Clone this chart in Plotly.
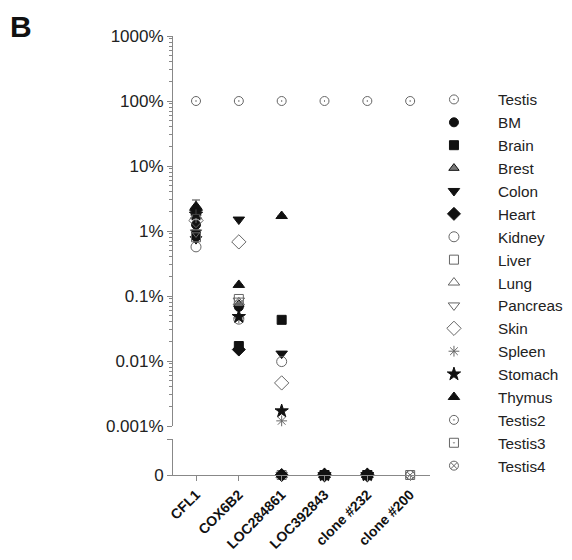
import plotly.graph_objects as go

genes = ["CFL1", "COX6B2", "LOC284861", "LOC392843", "clone #232", "clone #200"]
N = None
# relative expression (% of testis); 0 = not detected, None = not measured
testis   = [100, 100, 100, 100, 100, 100]
bm       = [1.25, 0.068, 0, 0, 0, N]
brain    = [0.88, 0.017, 0.043, 0, 0, N]
brest    = [1.9, 0.075, 0, 0, 0, N]
colon    = [0.75, 1.5, 0.013, 0, 0, N]
heart    = [2.1, 0.015, 0, 0, 0, N]
kidney   = [0.57, 0.044, 0.0098, 0, 0, N]
liver    = [0.8, 0.09, 0, 0, 0, N]
lung     = [1.7, 0.08, 0, 0, 0, N]
pancreas = [0.95, 0.085, 0, 0, 0, N]
skin     = [1.45, 0.68, 0.0046, 0, 0, N]
spleen   = [1.6, 0.046, 0.0012, 0, 0, N]
stomach  = [1.8, 0.048, 0.0017, 0, 0, N]
thymus   = [2.4, 0.148, 1.7, 0, 0, N]
testis2  = [N, N, N, N, N, 0]
testis3  = [N, N, N, N, N, 0]
testis4  = [N, N, N, N, N, 0]
thymus_err = [0.6, 0, 0, 0, 0, 0]

tick_vals = [0.001, 0.01, 0.1, 1, 10, 100, 1000]
tick_text = ["0.001%", "0.01%", "0.1%", "1%", "10%", "100%", "1000%"]

FILL = "#111111"
OPEN = "#666666"

series = [
    ("Testis", testis, "circle-open-dot", OPEN, 9),
    ("BM", bm, "circle", FILL, 9),
    ("Brain", brain, "square", FILL, 9),
    ("Brest", brest, "triangle-up", "#777777", 9),
    ("Colon", colon, "triangle-down", FILL, 10),
    ("Heart", heart, "diamond", FILL, 10),
    ("Kidney", kidney, "circle-open", OPEN, 10),
    ("Liver", liver, "square-open", OPEN, 9),
    ("Lung", lung, "triangle-up-open", OPEN, 10),
    ("Pancreas", pancreas, "triangle-down-open", OPEN, 10),
    ("Skin", skin, "diamond-open", OPEN, 11),
    ("Spleen", spleen, "asterisk-open", OPEN, 9),
    ("Stomach", stomach, "star", FILL, 10),
    ("Thymus", thymus, "triangle-up", FILL, 10),
    ("Testis2", testis2, "circle-open-dot", OPEN, 9),
    ("Testis3", testis3, "square-open-dot", OPEN, 9),
    ("Testis4", testis4, "circle-x-open", OPEN, 9),
]

def mk(sym, col, size):
    return dict(symbol=sym, size=size, color=col,
                line=dict(color=FILL if col == "#777777" else col, width=1))

fig = go.Figure()
# upper (log) panel: detected values
for i, (name, vals, sym, col, size) in enumerate(series):
    top_x = [g for g, v in zip(genes, vals) if v is not None and v > 0]
    top_y = [v for v in vals if v is not None and v > 0]
    err = None
    if name == "Thymus":
        err = dict(type="data",
                   array=[e for e, v in zip(thymus_err, vals) if v is not None and v > 0],
                   color="#444444", thickness=1, width=4)
    fig.add_trace(go.Scatter(x=top_x, y=top_y, mode="markers", name=name,
                             marker=mk(sym, col, size), xaxis="x", yaxis="y",
                             error_y=err, legendgroup=name,
                             showlegend=len(top_x) > 0, cliponaxis=False,
                             legendrank=i))

# lower panel: not detected (0); open symbols first, filled drawn on top
order = sorted(range(len(series)),
               key=lambda k: (series[k][3] == FILL, series[k][0] == "Brain"))
for i in order:
    name, vals, sym, col, size = series[i]
    zero_x = [g for g, v in zip(genes, vals) if v == 0]
    has_top = any(v is not None and v > 0 for v in vals)
    fig.add_trace(go.Scatter(x=zero_x, y=[0] * len(zero_x), mode="markers", name=name,
                             marker=mk(sym, col, size), xaxis="x", yaxis="y2",
                             legendgroup=name, showlegend=not has_top,
                             cliponaxis=False, legendrank=i))

AX = "#888888"
fig.update_layout(
    width=572, height=560,
    margin=dict(l=173, r=142, t=36, b=85, autoexpand=False),
    paper_bgcolor="white", plot_bgcolor="white",
    font=dict(family="Arial, Liberation Sans, sans-serif", color="#222222"),
    showlegend=True,
    xaxis=dict(type="category", categoryorder="array", categoryarray=genes,
               range=[-0.537, 5.463], anchor="y2", showline=True, linecolor=AX,
               linewidth=1, ticks="outside", ticklen=5, tickcolor=AX,
               tickangle=-45, showgrid=False, zeroline=False, automargin=False,
               tickfont=dict(size=14, family="Arial, Liberation Sans, sans-serif",
                             color="#111111", weight="bold")),
    yaxis=dict(type="log", range=[-3, 3], domain=[0.1116, 1.0], anchor="x",
               tickmode="array", tickvals=tick_vals, ticktext=tick_text,
               showline=True, linecolor=AX, linewidth=1, ticks="outside",
               ticklen=5, tickcolor=AX, showgrid=False, zeroline=False,
               automargin=False, tickfont=dict(size=17),
               minor=dict(ticks="outside", ticklen=3, tickcolor=AX, dtick="D1",
                          showgrid=False)),
    yaxis2=dict(range=[0, 1], domain=[0, 0.082], anchor="x",
                tickmode="array", tickvals=[0, 1], ticktext=["0", ""],
                showline=True, linecolor=AX, linewidth=1, ticks="outside",
                ticklen=5, tickcolor=AX, showgrid=False, zeroline=False,
                automargin=False, tickfont=dict(size=17)),
    legend=dict(x=0.922, y=0.893, xanchor="left", yanchor="top",
                font=dict(size=15.3, color="#222222"), itemwidth=78,
                bgcolor="rgba(0,0,0,0)", tracegroupgap=0),
    annotations=[dict(text="<b>B</b>", xref="paper", yref="paper", x=0, y=1,
                      xanchor="left", yanchor="top", xshift=-165, yshift=28,
                      showarrow=False, font=dict(size=30, color="#111111"))],
)

fig.write_html("out.html")
